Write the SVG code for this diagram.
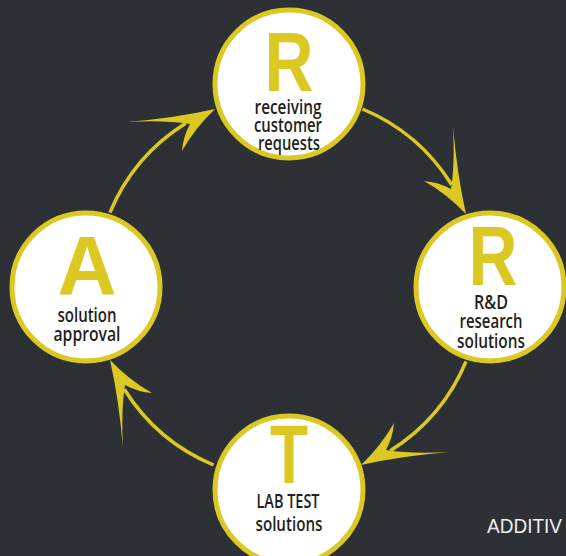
<svg xmlns="http://www.w3.org/2000/svg" xmlns:xlink="http://www.w3.org/1999/xlink" width="566" height="556" viewBox="0 0 566 556">
  <style>
    .disc { fill: #ffffff; stroke: #dcc823; stroke-width: 5; }
    .big { font-family: "Liberation Sans", Arial, sans-serif; font-weight: bold; font-size: 84px; fill: #dcc823; text-anchor: middle; }
    .lbl { font-family: "Open Sans", "Liberation Sans", sans-serif; font-weight: 600; font-size: 19px; fill: #231f20; text-anchor: middle; }
    .arc { fill: none; stroke: #dcc823; stroke-width: 3.5; }
    .head { fill: #dcc823; }
    .brand { font-family: "Liberation Sans", Arial, sans-serif; font-size: 21px; fill: #eeeeee; }
  </style>
  <defs>
    <!-- barbed arrowhead, drawn for the connector entering the top node -->
    <path id="barb" class="head" d="M215,109 Q175,118 127,122 Q165,120 190,124 Q183,137 182,151 Q195,128 215,109 Z"/>
  </defs>

  <rect width="566" height="556" fill="#2d3035"/>

  <!-- connectors: arcs on a ring centred at (288,287) -->
  <g id="connectors">
    <path class="arc" d="M110,212.5 A193,193 0 0 1 185.7,123.3"/>
    <use xlink:href="#barb"/>
    <path class="arc" d="M362.5,109 A193,193 0 0 1 451.7,184.7"/>
    <use xlink:href="#barb" transform="rotate(90 288 287)"/>
    <path class="arc" d="M466,361.5 A193,193 0 0 1 390.3,450.7"/>
    <use xlink:href="#barb" transform="rotate(180 288 287)"/>
    <path class="arc" d="M213.5,465 A193,193 0 0 1 124.3,389.3"/>
    <use xlink:href="#barb" transform="rotate(270 288 287)"/>
  </g>

  <g id="node-receiving">
    <circle class="disc" cx="289" cy="84" r="74"/>
    <text class="big" x="289" y="91" textLength="49" lengthAdjust="spacingAndGlyphs">R</text>
    <text class="lbl" x="288" y="113.5" textLength="67" lengthAdjust="spacingAndGlyphs">receiving</text>
    <text class="lbl" x="288" y="132" textLength="68" lengthAdjust="spacingAndGlyphs">customer</text>
    <text class="lbl" x="289" y="150" textLength="62" lengthAdjust="spacingAndGlyphs">requests</text>
  </g>

  <g id="node-research">
    <circle class="disc" cx="490" cy="287" r="74"/>
    <text class="big" x="493" y="285" textLength="49" lengthAdjust="spacingAndGlyphs">R</text>
    <text class="lbl" x="491" y="309" textLength="34" lengthAdjust="spacingAndGlyphs">R&amp;D</text>
    <text class="lbl" x="491" y="328" textLength="63" lengthAdjust="spacingAndGlyphs">research</text>
    <text class="lbl" x="491" y="347.5" textLength="68" lengthAdjust="spacingAndGlyphs">solutions</text>
  </g>

  <g id="node-labtest">
    <circle class="disc" cx="289" cy="490" r="74"/>
    <text class="big" x="289" y="483" textLength="38" lengthAdjust="spacingAndGlyphs">T</text>
    <text class="lbl" x="288" y="508" textLength="63" lengthAdjust="spacingAndGlyphs">LAB TEST</text>
    <text class="lbl" x="289" y="530.5" textLength="67" lengthAdjust="spacingAndGlyphs">solutions</text>
  </g>

  <g id="node-approval">
    <circle class="disc" cx="86" cy="287" r="74"/>
    <text class="big" x="87" y="295" textLength="59" lengthAdjust="spacingAndGlyphs">A</text>
    <text class="lbl" x="87" y="322" textLength="59" lengthAdjust="spacingAndGlyphs">solution</text>
    <text class="lbl" x="87" y="340.5" textLength="67" lengthAdjust="spacingAndGlyphs">approval</text>
  </g>

  <text class="brand" x="487" y="533" textLength="75" lengthAdjust="spacingAndGlyphs">ADDITIV</text>
</svg>
